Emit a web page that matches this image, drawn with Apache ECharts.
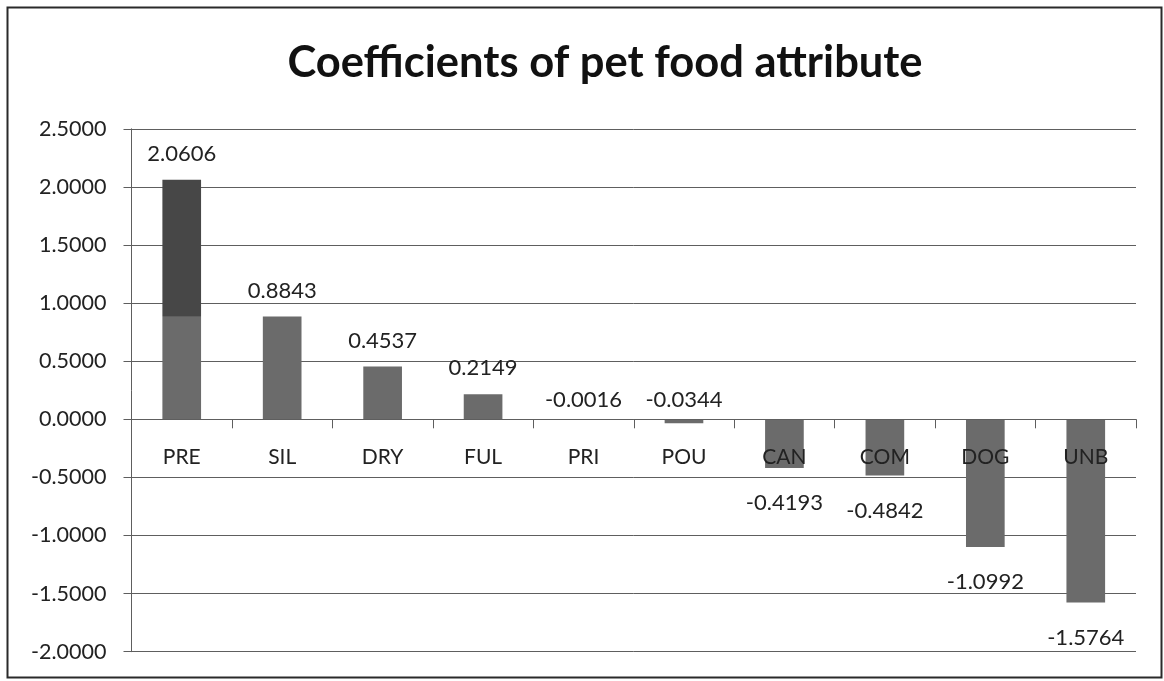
<!DOCTYPE html>
<html>
<head>
<meta charset="utf-8">
<script src="https://cdn.jsdelivr.net/npm/echarts@6/dist/echarts.min.js"></script>
<style>
html,body{margin:0;padding:0;background:#fff;}
#chart{width:1164px;height:681px;}
</style>
</head>
<body>
<div id="chart"></div>
<script>
// ---- data ----
var titleText = 'Coefficients of pet food attribute';
var categories = ['PRE','SIL','DRY','FUL','PRI','POU','CAN','COM','DOG','UNB'];
var coefficients = [2.0606, 0.8843, 0.4537, 0.2149, -0.0016, -0.0344, -0.4193, -0.4842, -1.0992, -1.5764];
var yMin = -2, yMax = 2.5, yStep = 0.5;

// ---- style ----
var FONT = 'Lato, "Open Sans", sans-serif';
var TEXT = '#222222';
var GRID = '#5e5e5e';
var BAR = '#6b6b6b';
var BAR_DARK = '#474747';
// labels for small negative values sit above the zero line
var aboveZero = {'PRI': true, 'POU': true};

var W = 1164, H = 681;
var gridTop = 128.8, gridBottom = 29.3;
var gridH = H - gridTop - gridBottom;
// move the category axis (line, ticks, labels) up to the zero line
var zeroOffset = -gridH * (0 - yMin) / (yMax - yMin);

var chart = echarts.init(document.getElementById('chart'), null, {renderer: 'canvas'});

var seriesData = coefficients.map(function (v, i) {
  var item = {value: v, label: {}};
  if (v >= 0) {
    item.label.position = 'top';
    item.label.distance = 15;
  } else if (aboveZero[categories[i]]) {
    item.label.position = 'top';
    item.label.distance = 8;
  } else {
    item.label.position = 'bottom';
    item.label.distance = 24;
  }
  if (i === 0) {
    item.itemStyle = {
      color: new echarts.graphic.LinearGradient(0, 0, 0, 1, [
        {offset: 0, color: BAR_DARK},
        {offset: 0.568, color: BAR_DARK},
        {offset: 0.572, color: BAR},
        {offset: 1, color: BAR}
      ])
    };
  }
  return item;
});

chart.setOption({
  animation: false,
  backgroundColor: '#ffffff',
  title: {
    text: titleText,
    left: 600,
    top: 35.5,
    textAlign: 'center',
    textStyle: {fontFamily: FONT, fontWeight: 'bold', fontSize: 43.5, color: '#111'}
  },
  graphic: [{
    type: 'rect',
    shape: {x: 7.5, y: 7.5, width: 1154, height: 670},
    style: {fill: 'none', stroke: '#2a2a2a', lineWidth: 2},
    silent: true,
    z: 100
  }],
  grid: {left: 131.5, right: 28, top: gridTop, bottom: gridBottom, containLabel: false, outerBoundsMode: 'none'},
  xAxis: {
    type: 'category',
    data: categories,
    boundaryGap: true,
    position: 'bottom',
    offset: zeroOffset,
    z: 10,
    axisLine: {show: true, onZero: false, lineStyle: {color: GRID, width: 1}},
    axisTick: {show: true, length: 9, inside: false, alignWithLabel: false, lineStyle: {color: GRID}},
    axisLabel: {margin: 27, fontFamily: FONT, fontSize: 21, color: TEXT},
    splitLine: {show: false}
  },
  yAxis: {
    type: 'value',
    min: yMin,
    max: yMax,
    interval: yStep,
    axisLine: {show: true, lineStyle: {color: GRID, width: 1}},
    axisTick: {show: true, length: 8, lineStyle: {color: GRID}},
    axisLabel: {
      margin: 25, fontFamily: FONT, fontSize: 21.5, color: TEXT,
      formatter: function (v) { return v.toFixed(4); }
    },
    splitLine: {show: true, lineStyle: {color: GRID, width: 1}}
  },
  series: [{
    type: 'bar',
    data: seriesData,
    barWidth: '38.5%',
    itemStyle: {color: BAR},
    z: 3,
    label: {
      show: true,
      fontFamily: FONT,
      fontSize: 22,
      color: TEXT,
      formatter: function (p) { return p.value.toFixed(4); }
    }
  }]
});
</script>
</body>
</html>
